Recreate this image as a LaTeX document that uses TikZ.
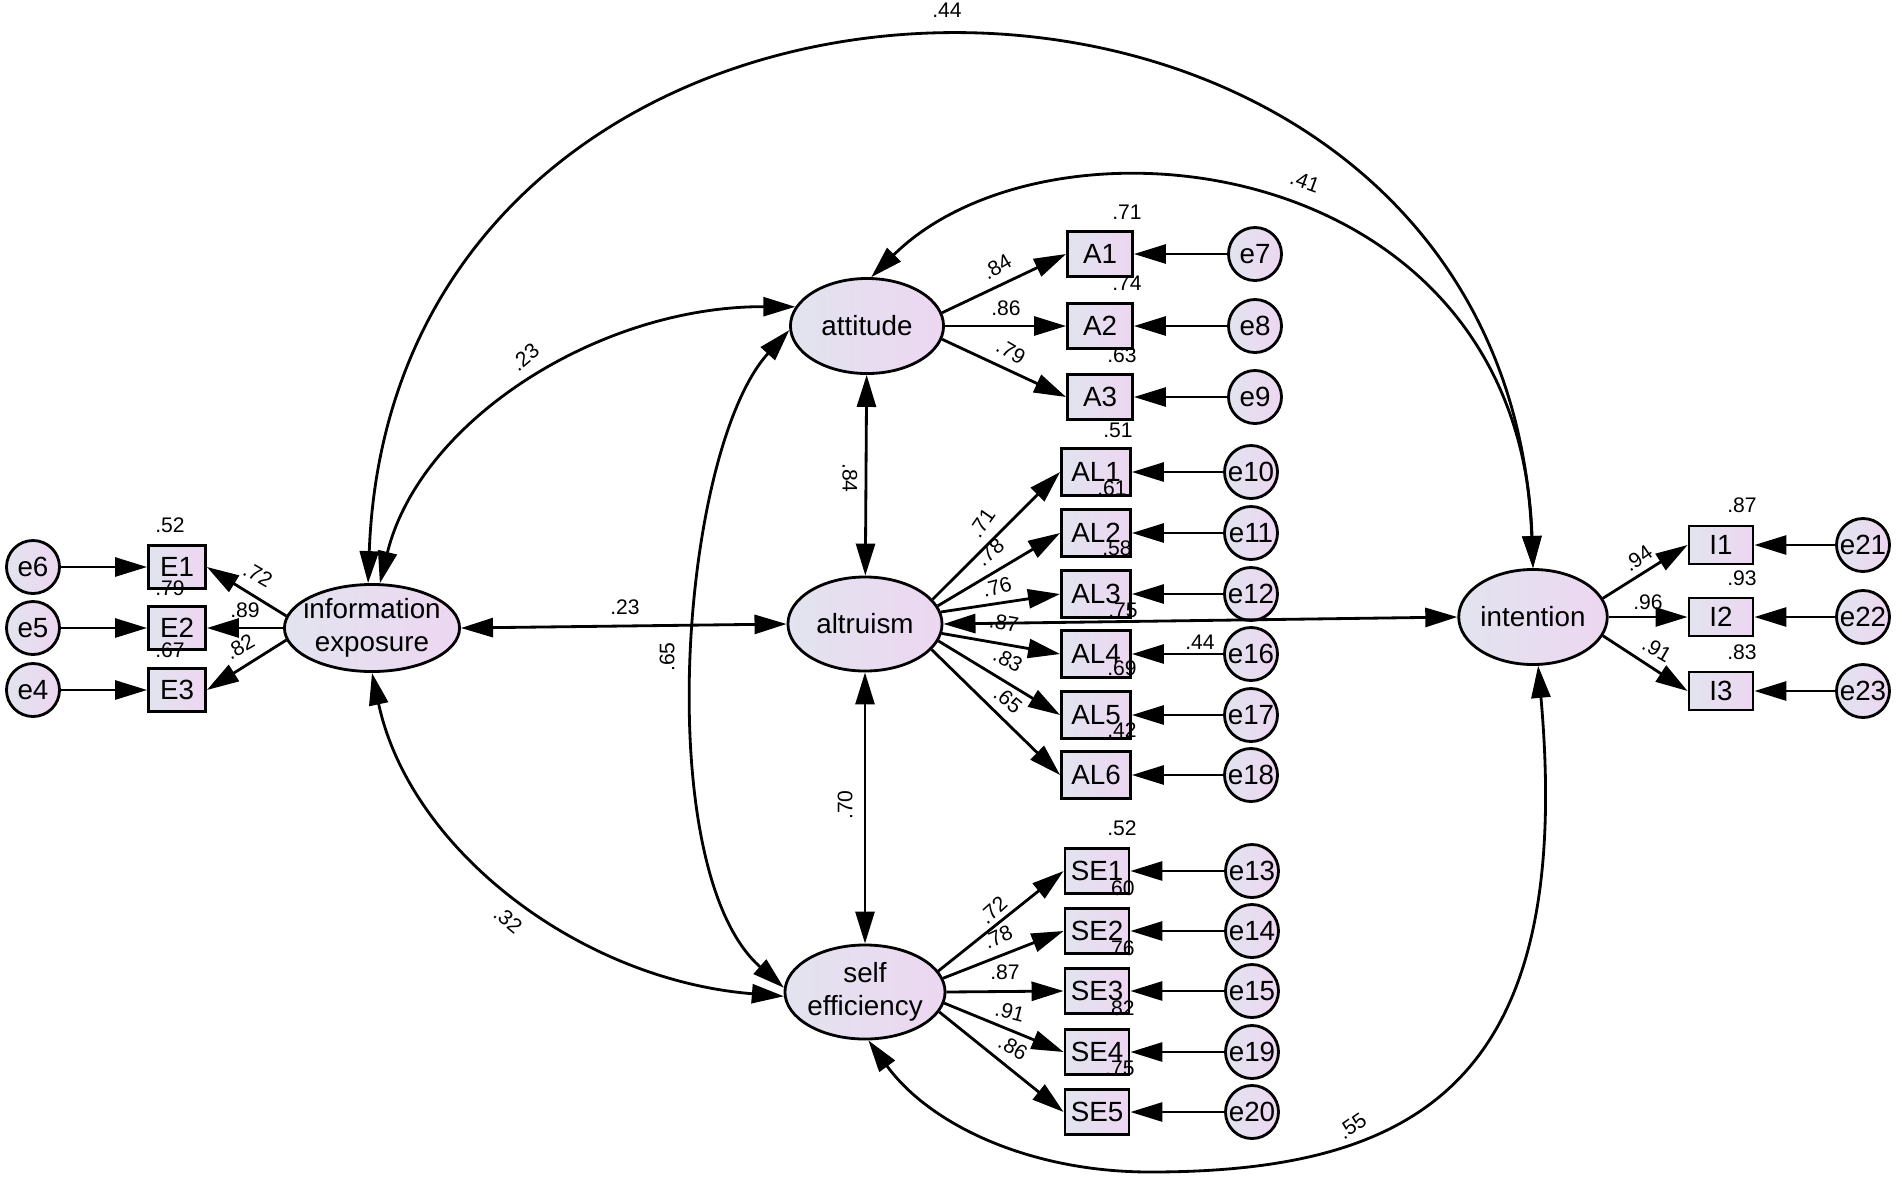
\documentclass[tikz,border=0pt]{standalone}
\usepackage{fontspec}
\setmainfont{Liberation Sans}
\usepackage{xcolor}
\usetikzlibrary{shapes.geometric,arrows.meta}
\definecolor{amosleft}{RGB}{226,228,239}
\definecolor{amosright}{RGB}{237,214,241}
\newcommand{\latfont}{\fontsize{7.9}{9.4}\selectfont}
\newcommand{\coeffont}{\fontsize{6}{7}\selectfont}

\begin{document}
\begin{tikzpicture}[
    x=0.01cm, y=-0.01cm,
    latent/.style={ellipse, draw, line width=0.8pt, left color=amosleft, right color=amosright, inner sep=0pt, align=center, font=\latfont},
    indicator/.style={rectangle, draw, line width=0.8pt, left color=amosleft, right color=amosright, inner sep=1pt, font=\latfont},
    errterm/.style={circle, draw, line width=0.8pt, left color=amosleft, right color=amosright, minimum size=0.53cm, inner sep=0pt, font=\latfont},
    reg/.style={-{Triangle[length=0.32cm, width=0.19cm]}, line width=0.8pt},
    cov/.style={{Triangle[length=0.32cm, width=0.19cm]}-{Triangle[length=0.32cm, width=0.19cm]}, line width=0.8pt},
    coef/.style={font=\coeffont, inner sep=0pt}
]
\path[use as bounding box, fill=white] (0,0) rectangle (1902,1181);

% Latent variables
\node[latent, minimum width=1.75cm, minimum height=0.87cm, inner xsep=-2pt] (infoexp) at (372,628) {information\\exposure};
\node[latent, minimum width=1.53cm, minimum height=0.95cm] (attitude) at (867,326) {attitude};
\node[latent, minimum width=1.54cm, minimum height=0.94cm] (altruism) at (865,624) {altruism};
\node[latent, minimum width=1.6cm, minimum height=0.94cm, inner xsep=-1pt] (selfeff) at (865,992) {self\\efficiency};
\node[latent, minimum width=1.47cm, minimum height=0.95cm] (intention) at (1533,617) {intention};

% Information exposure indicators
\foreach \i/\y/\k/\a in {1/567/6/172, 2/628/5/180, 3/690/4/188} {
    \node[indicator, minimum width=0.57cm, minimum height=0.43cm] (E\i) at (177,\y) {E\i};
    \node[errterm] (e\k) at (33,\y) {e\k};
    \draw[reg] (e\k) -- (E\i);
    \draw[reg] (infoexp.\a) -- (E\i.east);
}

% Attitude indicators
\foreach \i/\y/\k/\a in {1/254/7/10, 2/326/8/0, 3/397/9/350} {
    \node[indicator, minimum width=0.65cm, minimum height=0.45cm] (A\i) at (1100,\y) {A\i};
    \node[errterm] (e\k) at (1255,\y) {e\k};
    \draw[reg] (e\k) -- (A\i);
    \draw[reg] (attitude.\a) -- (A\i.west);
}

% Altruism indicators
\foreach \i/\y/\k/\a in {1/472/10/20, 2/533/11/14, 3/594/12/9, 4/654/16/353, 5/715/17/347, 6/775/18/339} {
    \node[indicator, minimum width=0.69cm, minimum height=0.47cm] (AL\i) at (1096,\y) {AL\i};
    \node[errterm] (e\k) at (1251,\y) {e\k};
    \draw[reg] (e\k) -- (AL\i);
    \draw[reg] (altruism.\a) -- (AL\i.west);
}

% Self efficiency indicators
\foreach \i/\y/\k/\a in {1/871/13/16, 2/931/14/10, 3/991/15/0, 4/1052/19/352, 5/1112/20/345} {
    \node[indicator, minimum width=0.64cm, minimum height=0.45cm] (SE\i) at (1097,\y) {SE\i};
    \node[errterm] (e\k) at (1252,\y) {e\k};
    \draw[reg] (e\k) -- (SE\i);
    \draw[reg] (selfeff.\a) -- (SE\i.west);
}

% Intention indicators
\foreach \i/\y/\k/\a in {1/545/21/15, 2/617/22/0, 3/691/23/345} {
    \node[indicator, minimum width=0.64cm, minimum height=0.38cm] (I\i) at (1721,\y) {I\i};
    \node[errterm] (e\k) at (1863,\y) {e\k};
    \draw[reg] (e\k) -- (I\i);
    \draw[reg] (intention.\a) -- (I\i.west);
}

% Covariances
\coordinate (lowmid) at (1150,1172);
\draw[cov] (infoexp.95) .. controls (395,-138) and (1505,-138) .. (intention.north);
\draw[cov] (attitude.85) .. controls (1050,100) and (1520,150) .. (intention.north);
\draw[cov] (infoexp.80) .. controls (420,420) and (600,306) .. (attitude.165);
\draw[cov] (attitude.183) .. controls (680,450) and (650,870) .. (selfeff.177);
\draw[cov] (infoexp.south) .. controls (410,850) and (580,980) .. (selfeff.183);
\draw[cov] (selfeff.274) .. controls (930,1125) and (1030,1172) .. (lowmid) .. controls (1420,1172) and (1575,1080) .. (intention.276);
\draw[cov] (infoexp.east) -- (altruism.west);
\draw[cov] (altruism.east) -- (intention.west);
\draw[cov] (attitude) -- (altruism);
\draw[cov] (altruism) -- (selfeff);

% Loadings
\foreach \n/\x/\y/\r/\t in {lE1/258/575/-30/.72, lE2/245/610/0/.89, lE3/240/647/30/.82,
    lA1/997/267/30/.84, lA2/1006/308/0/.86, lA3/1011/352/-30/.79,
    lAL1/982/523/55/.71, lAL2/990/552/40/.78, lAL3/997/587/15/.76, lAL4/1004/623/-10/.87, lAL5/1008/660/-28/.83, lAL6/1008/700/-40/.65,
    lSE1/993/910/42/.72, lSE2/998/937/25/.78, lSE3/1005/972/0/.87, lSE4/1010/1012/-15/.91, lSE5/1013/1048/-30/.86,
    lI1/1638/558/35/.94, lI2/1648/602/0/.96, lI3/1657/650/-30/.91, le16/1200/642/0/.44} {
    \node[coef, rotate=\r] (\n) at (\x,\y) {\t};
}

% Squared multiple correlations
\foreach \n/\x/\y/\t in {rE1/170/525/.52, rE2/170/588/.79, rE3/170/650/.67,
    rA1/1127/212/.71, rA2/1127/283/.74, rA3/1122/355/.63,
    rAL1/1118/430/.51, rAL2/1112/488/.61, rAL3/1117/548/.58, rAL4/1123/610/.75, rAL5/1122/668/.69, rAL6/1122/730/.42,
    rSE1/1122/828/.52, rSE2/1120/888/.60, rSE3/1120/948/.76, rSE4/1120/1008/.82, rSE5/1120/1068/.75,
    rI1/1742/505/.87, rI2/1742/578/.93, rI3/1742/652/.83} {
    \node[coef] (\n) at (\x,\y) {\t};
}

% Correlation labels
\foreach \n/\x/\y/\r/\t in {c44/947/10/0/.44, c41/1305/182/-20/.41, c23a/525/357/40/.23, c23b/625/607/0/.23,
    c65/667/657/90/.65, c84/850/478/-90/.84, c70/845/805/90/.70, c32/508/920/-40/.32, c55/1352/1126/35/.55} {
    \node[coef, rotate=\r] (\n) at (\x,\y) {\t};
}

\end{tikzpicture}
\end{document}
